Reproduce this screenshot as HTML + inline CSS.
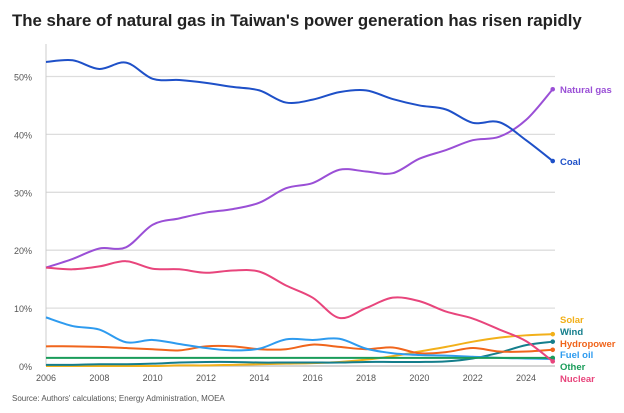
<!DOCTYPE html>
<html><head><meta charset="utf-8">
<style>
body{margin:0;background:#fff;width:624px;height:408px;overflow:hidden;font-family:"Liberation Sans",sans-serif}
</style></head>
<body>
<svg id="chart" width="624" height="408" viewBox="0 0 624 408" xmlns="http://www.w3.org/2000/svg">
<text x="12" y="26" font-size="16.8" font-weight="bold" fill="#222">The share of natural gas in Taiwan's power generation has risen rapidly</text>
<g id="grid"></g><g id="lines"></g><g id="labels"></g>
<text x="12" y="401" font-size="8" fill="#555">Source: Authors' calculations; Energy Administration, MOEA</text>
</svg>
<script>
const years=[2006,2007,2008,2009,2010,2011,2012,2013,2014,2015,2016,2017,2018,2019,2020,2021,2022,2023,2024,2025];
const coal=[52.5,52.8,51.3,52.4,49.6,49.4,48.9,48.2,47.6,45.5,46.0,47.3,47.6,46.1,45.0,44.3,42.0,42.1,39.0,35.4];
const gas=[17.0,18.5,20.3,20.5,24.4,25.5,26.5,27.1,28.2,30.7,31.6,33.9,33.6,33.3,35.8,37.3,39.0,39.6,42.5,47.8];
const nuclear=[17.0,16.7,17.2,18.1,16.8,16.7,16.1,16.5,16.3,13.9,11.8,8.3,10.0,11.8,11.2,9.4,8.2,6.3,4.3,0.8];
const fuelOil=[8.4,6.9,6.3,4.1,4.5,3.8,3.1,2.7,3.0,4.6,4.5,4.7,3.0,2.2,1.9,1.8,1.6,1.4,1.3,1.2];
const hydro=[3.4,3.4,3.3,3.1,2.9,2.7,3.4,3.4,2.9,2.9,3.7,3.3,2.9,3.2,2.2,2.4,3.1,2.5,2.5,2.8];
const other=[1.4,1.4,1.4,1.4,1.4,1.4,1.4,1.4,1.4,1.4,1.4,1.4,1.4,1.4,1.4,1.4,1.4,1.4,1.4,1.4];
const wind=[0.2,0.2,0.3,0.3,0.4,0.6,0.7,0.7,0.6,0.6,0.6,0.6,0.7,0.7,0.7,0.8,1.3,2.3,3.6,4.2];
const solar=[0,0,0,0,0,0.1,0.1,0.2,0.3,0.4,0.5,0.7,1.1,1.7,2.5,3.3,4.2,4.9,5.3,5.5];
const yTicks=[0,10,20,30,40,50];
const xTicks=[2006,2008,2010,2012,2014,2016,2018,2020,2022,2024];
const series=[
 {name:"Natural gas",data:gas,color:"#9a4fd6",ly:93},
 {name:"Coal",data:coal,color:"#1e50c8",ly:165},
 {name:"Solar",data:solar,color:"#f2b01a",ly:323},
 {name:"Wind",data:wind,color:"#147e8c",ly:335},
 {name:"Hydropower",data:hydro,color:"#f0651c",ly:347},
 {name:"Fuel oil",data:fuelOil,color:"#2e9bef",ly:358},
 {name:"Other",data:other,color:"#1a9c5a",ly:370},
 {name:"Nuclear",data:nuclear,color:"#e8457c",ly:382}
];
const NS="http://www.w3.org/2000/svg";
const x=v=>46+(v-2006)*26.67;
const y=v=>366-v*5.79;
function mk(t,a,p){const e=document.createElementNS(NS,t);for(const k in a)e.setAttribute(k,a[k]);p.appendChild(e);return e;}
const grid=document.getElementById('grid');
yTicks.forEach(t=>{
 const l=mk('line',{x1:46,x2:555,y1:y(t),y2:y(t),stroke:t===0?'#bbb':'#ddd','stroke-width':1.3},grid);
 
 
 const tx=mk('text',{x:32,y:y(t)+4,'font-size':9,fill:'#555','text-anchor':'end'},grid);tx.textContent=t+'%';
 
 
});
const ax=mk('line',{x1:46,x2:46,y1:44,y2:366,stroke:'#ccc','stroke-width':1},grid);


xTicks.forEach(t=>{
 const tx=mk('text',{x:x(t),y:381,'font-size':9,fill:'#555','text-anchor':'middle'},grid);tx.textContent=t;
 
 
});
function path(d){
 const p=d.map((v,i)=>[x(years[i]),y(v)]);
 let s='M'+p[0][0]+','+p[0][1];
 for(let i=0;i<p.length-1;i++){
  const p0=p[i-1]||p[i],p1=p[i],p2=p[i+1],p3=p[i+2]||p2;
  const c1=[p1[0]+(p2[0]-p0[0])/6,p1[1]+(p2[1]-p0[1])/6];
  const c2=[p2[0]-(p3[0]-p1[0])/6,p2[1]-(p3[1]-p1[1])/6];
  s+=`C${c1[0]},${c1[1]} ${c2[0]},${c2[1]} ${p2[0]},${p2[1]}`;
 }
 return s;
}
const lines=document.getElementById('lines'),labels=document.getElementById('labels');
series.forEach(s=>{
 const key=s.name.toLowerCase().replace(/ /g,'-');
 const pl=mk('path',{d:path(s.data),fill:'none',stroke:s.color,'stroke-width':2},lines);
 
 
 const last=s.data[s.data.length-1];
 const c=mk('circle',{cx:x(years[years.length-1]),cy:y(last),r:2.3,fill:s.color},lines);
 
 
 const t=mk('text',{x:560,y:s.ly,'font-size':9.5,'font-weight':'bold',fill:s.color},labels);t.textContent=s.name;
 
 
});
</script>
</body></html>
